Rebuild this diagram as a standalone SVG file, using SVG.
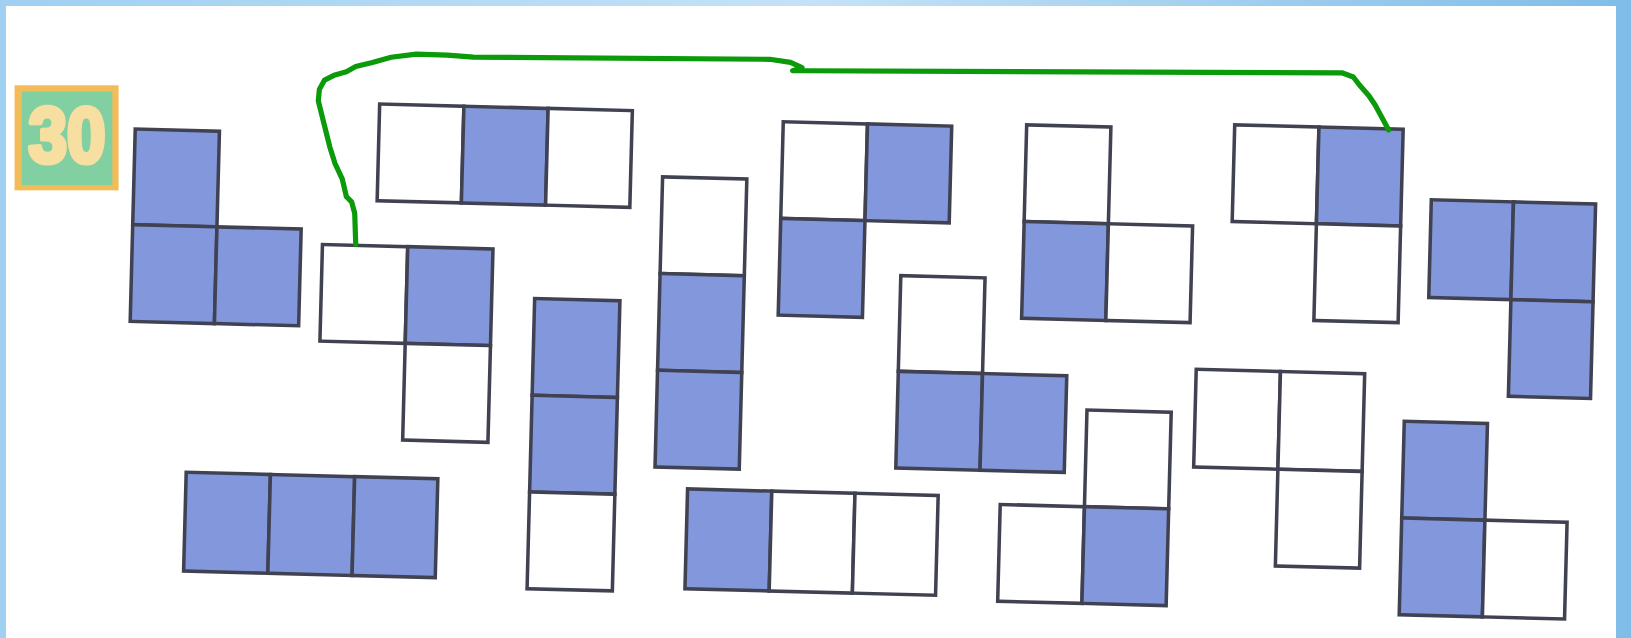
<svg xmlns="http://www.w3.org/2000/svg" width="1631" height="638" viewBox="0 0 1631 638">
<defs>
<linearGradient id="bg" x1="0" y1="0" x2="1" y2="0">
<stop offset="0" stop-color="#9fd0f2"/>
<stop offset="0.5" stop-color="#c4e2f6"/>
<stop offset="1" stop-color="#7fbde8"/>
</linearGradient>
<style>
.b{fill:#8297dc;stroke:#404252;stroke-width:3.4;stroke-linejoin:miter}
.w{fill:#ffffff;stroke:#404252;stroke-width:3.4;stroke-linejoin:miter}
.g{fill:none;stroke:#0a9a0a;stroke-width:5;stroke-linecap:round;stroke-linejoin:round}
</style>
</defs>
<rect x="0" y="0" width="1631" height="638" fill="url(#bg)"/>
<rect x="6" y="6" width="1610" height="632" fill="#ffffff"/>
<g transform="scale(1.0402)">
<g id="badge">
<rect x="14" y="82" width="100" height="101" fill="#f2bc58"/>
<rect x="21" y="88" width="87" height="90" fill="#82d0a2"/>
<text x="64.5" y="156" text-anchor="middle" font-family="Liberation Sans, Arial, sans-serif" font-weight="bold" font-size="74" fill="#f6dfa0" stroke="#f6dfa0" stroke-width="5" stroke-linejoin="round" textLength="74" lengthAdjust="spacingAndGlyphs">30</text>
</g>
<g id="pieceA" transform="translate(130,124) rotate(1.5)">
<rect class="b" x="0" y="0" width="81" height="92"/>
<rect class="b" x="0" y="92" width="81" height="93"/>
<rect class="b" x="81" y="92" width="81" height="93"/>
</g>
<g id="pieceB" transform="translate(365,100) rotate(1.5)">
<rect class="w" x="0" y="0" width="81" height="93"/>
<rect class="b" x="81" y="0" width="81" height="93"/>
<rect class="w" x="162" y="0" width="81" height="93"/>
</g>
<g id="pieceC" transform="translate(310,235) rotate(1.5)">
<rect class="w" x="0" y="0" width="82" height="93"/>
<rect class="b" x="82" y="0" width="82" height="93"/>
<rect class="w" x="82" y="93" width="82" height="93"/>
</g>
<g id="pieceD" transform="translate(514,287) rotate(1.5)">
<rect class="b" x="0" y="0" width="82" height="93"/>
<rect class="b" x="0" y="93" width="82" height="93"/>
<rect class="w" x="0" y="186" width="82" height="93"/>
</g>
<g id="pieceE" transform="translate(637,170) rotate(1.5)">
<rect class="w" x="0" y="0" width="81" height="93"/>
<rect class="b" x="0" y="93" width="81" height="93"/>
<rect class="b" x="0" y="186" width="81" height="93"/>
</g>
<g id="pieceF" transform="translate(753,117) rotate(1.5)">
<rect class="w" x="0" y="0" width="81" height="93"/>
<rect class="b" x="81" y="0" width="81" height="93"/>
<rect class="b" x="0" y="93" width="81" height="93"/>
</g>
<g id="pieceG" transform="translate(987,120) rotate(1.5)">
<rect class="w" x="0" y="0" width="81" height="93"/>
<rect class="b" x="0" y="93" width="81" height="93"/>
<rect class="w" x="81" y="93" width="81" height="93"/>
</g>
<g id="pieceH" transform="translate(1187,120) rotate(1.5)">
<rect class="w" x="0" y="0" width="81" height="93"/>
<rect class="b" x="81" y="0" width="81" height="93"/>
<rect class="w" x="81" y="93" width="81" height="93"/>
</g>
<g id="pieceI" transform="translate(1376,192) rotate(1.5)">
<rect class="b" x="0" y="0" width="79" height="94"/>
<rect class="b" x="79" y="0" width="79" height="94"/>
<rect class="b" x="79" y="94" width="79" height="93"/>
</g>
<g id="pieceJ" transform="translate(866,265) rotate(1.5)">
<rect class="w" x="0" y="0" width="81" height="92"/>
<rect class="b" x="0" y="92" width="81" height="93"/>
<rect class="b" x="81" y="92" width="81" height="93"/>
</g>
<g id="pieceK" transform="translate(964,392) rotate(1.5)">
<rect class="w" x="81" y="0" width="81" height="93"/>
<rect class="w" x="0" y="93" width="81" height="93"/>
<rect class="b" x="81" y="93" width="81" height="93"/>
</g>
<g id="pieceL" transform="translate(1150,355) rotate(1.5)">
<rect class="w" x="0" y="0" width="81" height="94"/>
<rect class="w" x="81" y="0" width="81" height="94"/>
<rect class="w" x="81" y="94" width="81" height="93"/>
</g>
<g id="pieceM" transform="translate(1350,405) rotate(1.5)">
<rect class="b" x="0" y="0" width="80" height="93"/>
<rect class="b" x="0" y="93" width="80" height="93"/>
<rect class="w" x="80" y="93" width="79" height="93"/>
</g>
<g id="pieceN" transform="translate(179,454) rotate(1.5)">
<rect class="b" x="0" y="0" width="81" height="95"/>
<rect class="b" x="81" y="0" width="81" height="95"/>
<rect class="b" x="162" y="0" width="80" height="95"/>
</g>
<g id="pieceO" transform="translate(661,470) rotate(1.5)">
<rect class="b" x="0" y="0" width="81" height="96"/>
<rect class="w" x="81" y="0" width="80" height="96"/>
<rect class="w" x="161" y="0" width="80" height="96"/>
</g>
<g id="connectors">
<path class="g" d="M342,235 L341,205 L338,194 L333,189 L329,172 L322,157 L317,141 L312,121 L306,97 L307,86 L312,77 L322,72 L333,69 L342,64 L358,60 L376,55 L400,52 L430,53 L455,55 L740,57 L760,60 L771,65 L762,68 L776,68 L1290,70 L1301,74 L1308,83 L1316,92 L1322,101 L1328,112 L1335,125"/>
</g>
</g>
</svg>
